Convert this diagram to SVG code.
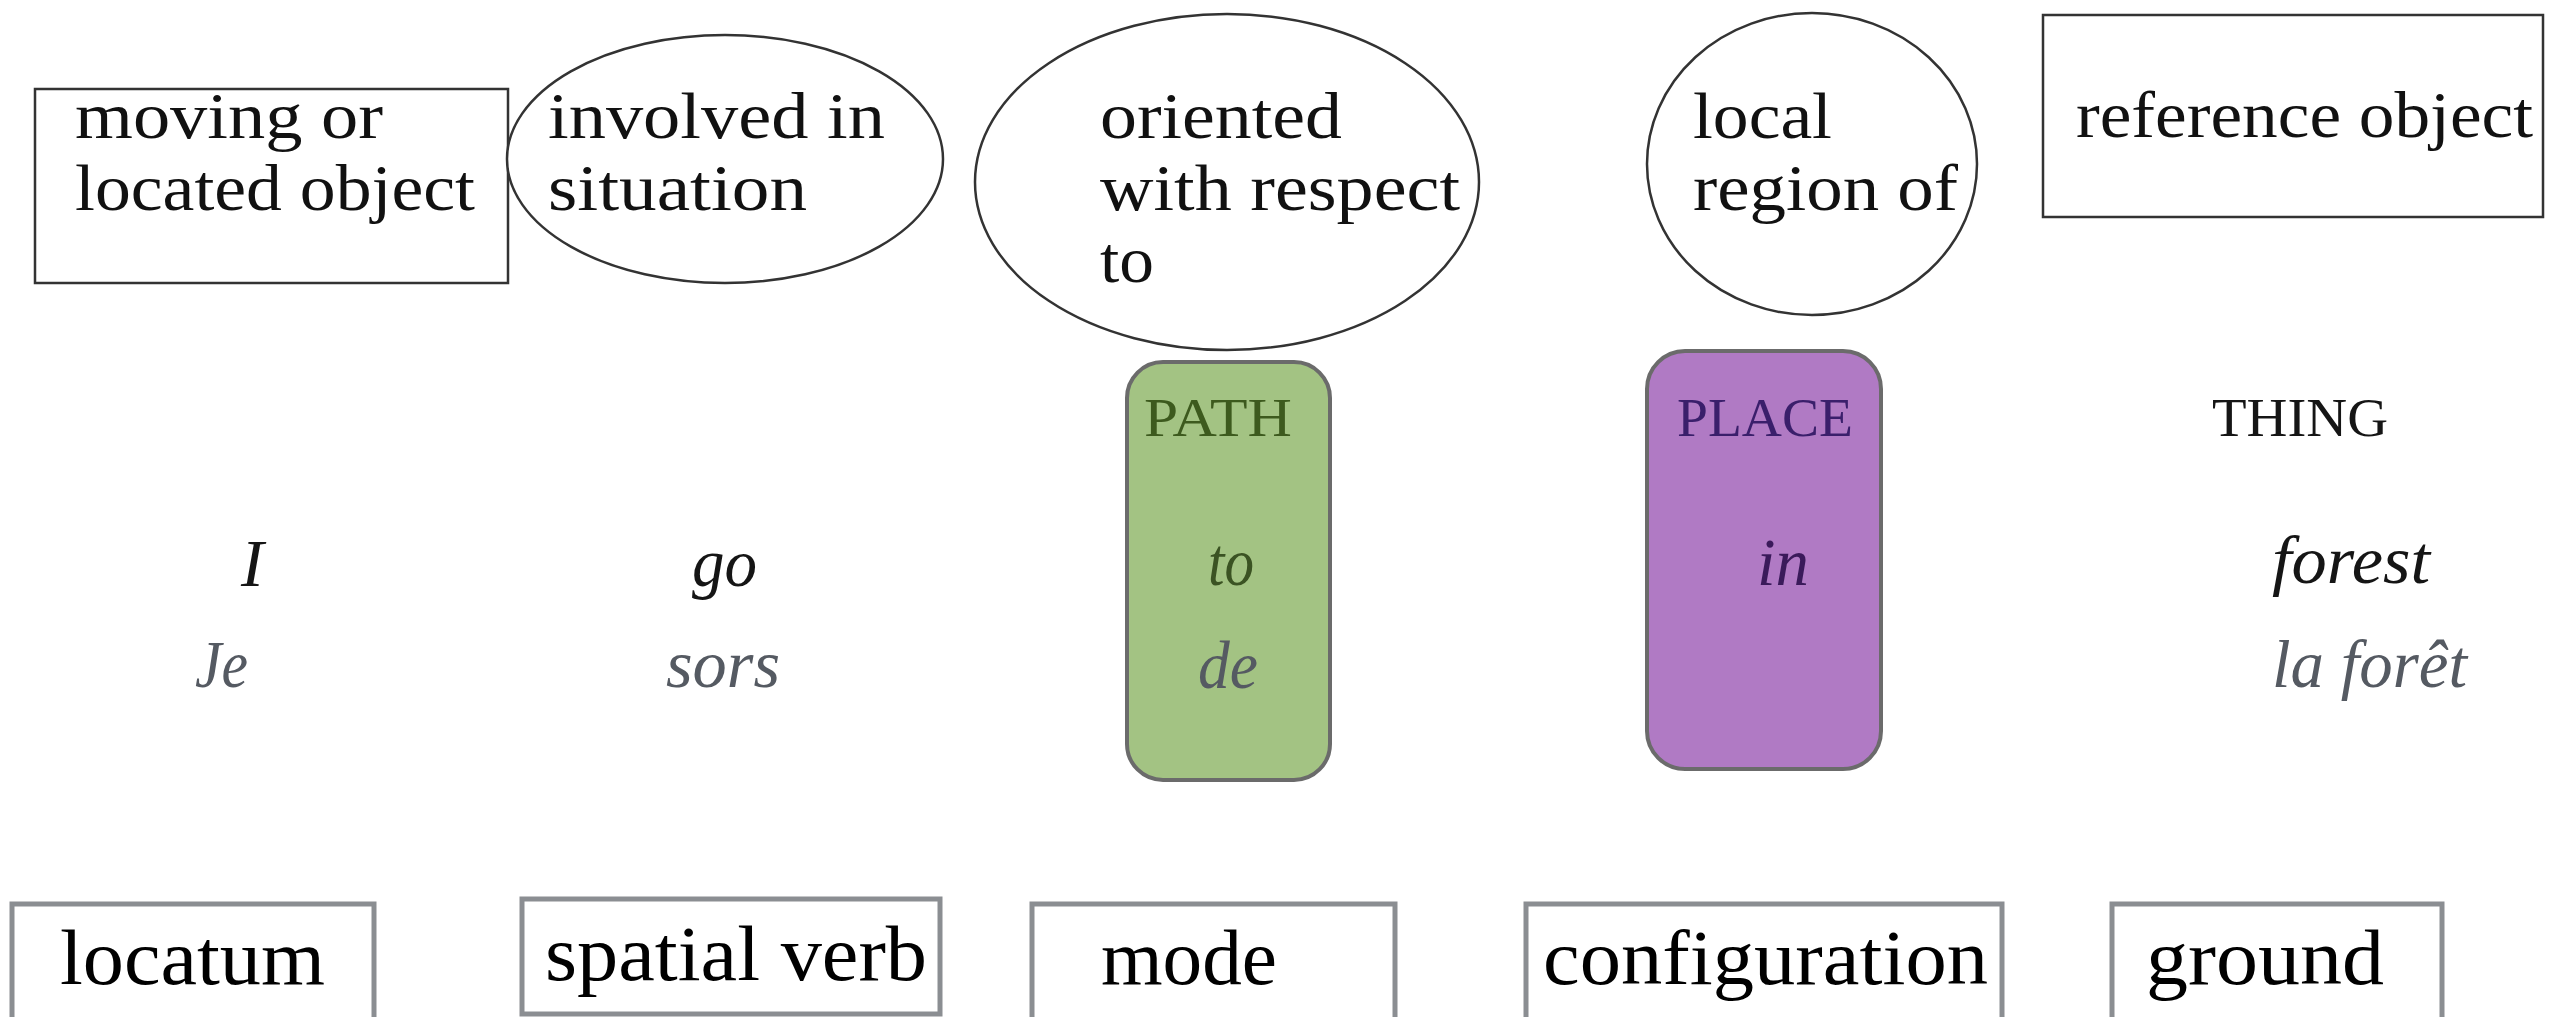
<svg xmlns="http://www.w3.org/2000/svg" width="2569" height="1017" viewBox="0 0 2569 1017">
<style>
.top{font-family:"Liberation Serif","DejaVu Serif",serif;font-size:66px;fill:#111}
.cap{font-family:"Liberation Serif","DejaVu Serif",serif;font-size:54px}
.it{font-family:"Liberation Serif","DejaVu Serif",serif;font-style:italic;font-size:68px}
.en{fill:#151515}
.fr{fill:#555a62}
.bot{font-family:"Liberation Serif","DejaVu Serif",serif;font-size:78px;fill:#000}
.tb{fill:#fff;stroke:#333;stroke-width:2.5}
.bb{fill:#fff;stroke:#8b8e92;stroke-width:5}
</style>
<rect width="2569" height="1017" fill="#fff"/>
<g id="connectors"></g>
<g id="n-moving">
<rect class="tb" x="35" y="89" width="473" height="194"/>
<text class="top" x="75" y="138" textLength="308" lengthAdjust="spacingAndGlyphs">moving or</text>
<text class="top" x="75" y="210" textLength="400" lengthAdjust="spacingAndGlyphs">located object</text>
</g>
<g id="n-involved">
<ellipse class="tb" cx="725" cy="159" rx="218" ry="124"/>
<text class="top" x="548" y="138" textLength="337" lengthAdjust="spacingAndGlyphs">involved in</text>
<text class="top" x="548" y="210" textLength="259" lengthAdjust="spacingAndGlyphs">situation</text>
</g>
<g id="n-oriented">
<ellipse class="tb" cx="1227" cy="182" rx="252" ry="168"/>
<text class="top" x="1100" y="138" textLength="242" lengthAdjust="spacingAndGlyphs">oriented</text>
<text class="top" x="1100" y="210" textLength="360" lengthAdjust="spacingAndGlyphs">with respect</text>
<text class="top" x="1100" y="282" textLength="54" lengthAdjust="spacingAndGlyphs">to</text>
</g>
<g id="n-local">
<ellipse class="tb" cx="1812" cy="164" rx="165" ry="151"/>
<text class="top" x="1693" y="138" textLength="139" lengthAdjust="spacingAndGlyphs">local</text>
<text class="top" x="1693" y="210" textLength="265" lengthAdjust="spacingAndGlyphs">region of</text>
</g>
<g id="n-reference">
<rect class="tb" x="2043" y="15" width="500" height="202"/>
<text class="top" x="2076" y="137" textLength="457" lengthAdjust="spacingAndGlyphs">reference object</text>
</g>
<g id="n-path">
<rect x="1127" y="362" width="203" height="418" rx="36" ry="36" fill="#a3c383" stroke="#6b6b6b" stroke-width="4"/>
<text class="cap" x="1144" y="436" fill="#3d5a1e" textLength="148" lengthAdjust="spacingAndGlyphs">PATH</text>
<text class="it" x="1208" y="585" fill="#3b5323" textLength="46" lengthAdjust="spacingAndGlyphs">to</text>
<text class="it fr" x="1198" y="688" textLength="60" lengthAdjust="spacingAndGlyphs">de</text>
</g>
<g id="n-place">
<rect x="1647" y="351" width="234" height="418" rx="38" ry="38" fill="#b07ac4" stroke="#6b6b6b" stroke-width="4"/>
<text class="cap" x="1677" y="436" fill="#3a1f6b" textLength="176" lengthAdjust="spacingAndGlyphs">PLACE</text>
<text class="it" x="1757" y="585" fill="#3a1a5a" textLength="52" lengthAdjust="spacingAndGlyphs">in</text>
</g>
<g id="n-thing">
<text class="cap" x="2212" y="436" fill="#151515" textLength="176" lengthAdjust="spacingAndGlyphs">THING</text>
<text class="it en" x="2272" y="583" textLength="158" lengthAdjust="spacingAndGlyphs">forest</text>
<text class="it fr" x="2272" y="687" textLength="195" lengthAdjust="spacingAndGlyphs">la forêt</text>
</g>
<g id="n-i">
<text class="it en" x="241" y="586">I</text>
<text class="it fr" x="195" y="687" textLength="53" lengthAdjust="spacingAndGlyphs">Je</text>
</g>
<g id="n-go">
<text class="it en" x="692" y="586" textLength="65" lengthAdjust="spacingAndGlyphs">go</text>
<text class="it fr" x="666" y="687" textLength="114" lengthAdjust="spacingAndGlyphs">sors</text>
</g>
<g id="n-locatum">
<rect class="bb" x="12" y="904" width="362" height="130"/>
<text class="bot" x="60" y="984" textLength="265" lengthAdjust="spacingAndGlyphs">locatum</text>
</g>
<g id="n-spatialverb">
<rect class="bb" x="522" y="899" width="418" height="115"/>
<text class="bot" x="545" y="980" textLength="382" lengthAdjust="spacingAndGlyphs">spatial verb</text>
</g>
<g id="n-mode">
<rect class="bb" x="1032" y="904" width="363" height="130"/>
<text class="bot" x="1101" y="984" textLength="176" lengthAdjust="spacingAndGlyphs">mode</text>
</g>
<g id="n-configuration">
<rect class="bb" x="1526" y="904" width="476" height="130"/>
<text class="bot" x="1543" y="984" textLength="445" lengthAdjust="spacingAndGlyphs">configuration</text>
</g>
<g id="n-ground">
<rect class="bb" x="2112" y="904" width="330" height="130"/>
<text class="bot" x="2146" y="984" textLength="238" lengthAdjust="spacingAndGlyphs">ground</text>
</g>
</svg>
